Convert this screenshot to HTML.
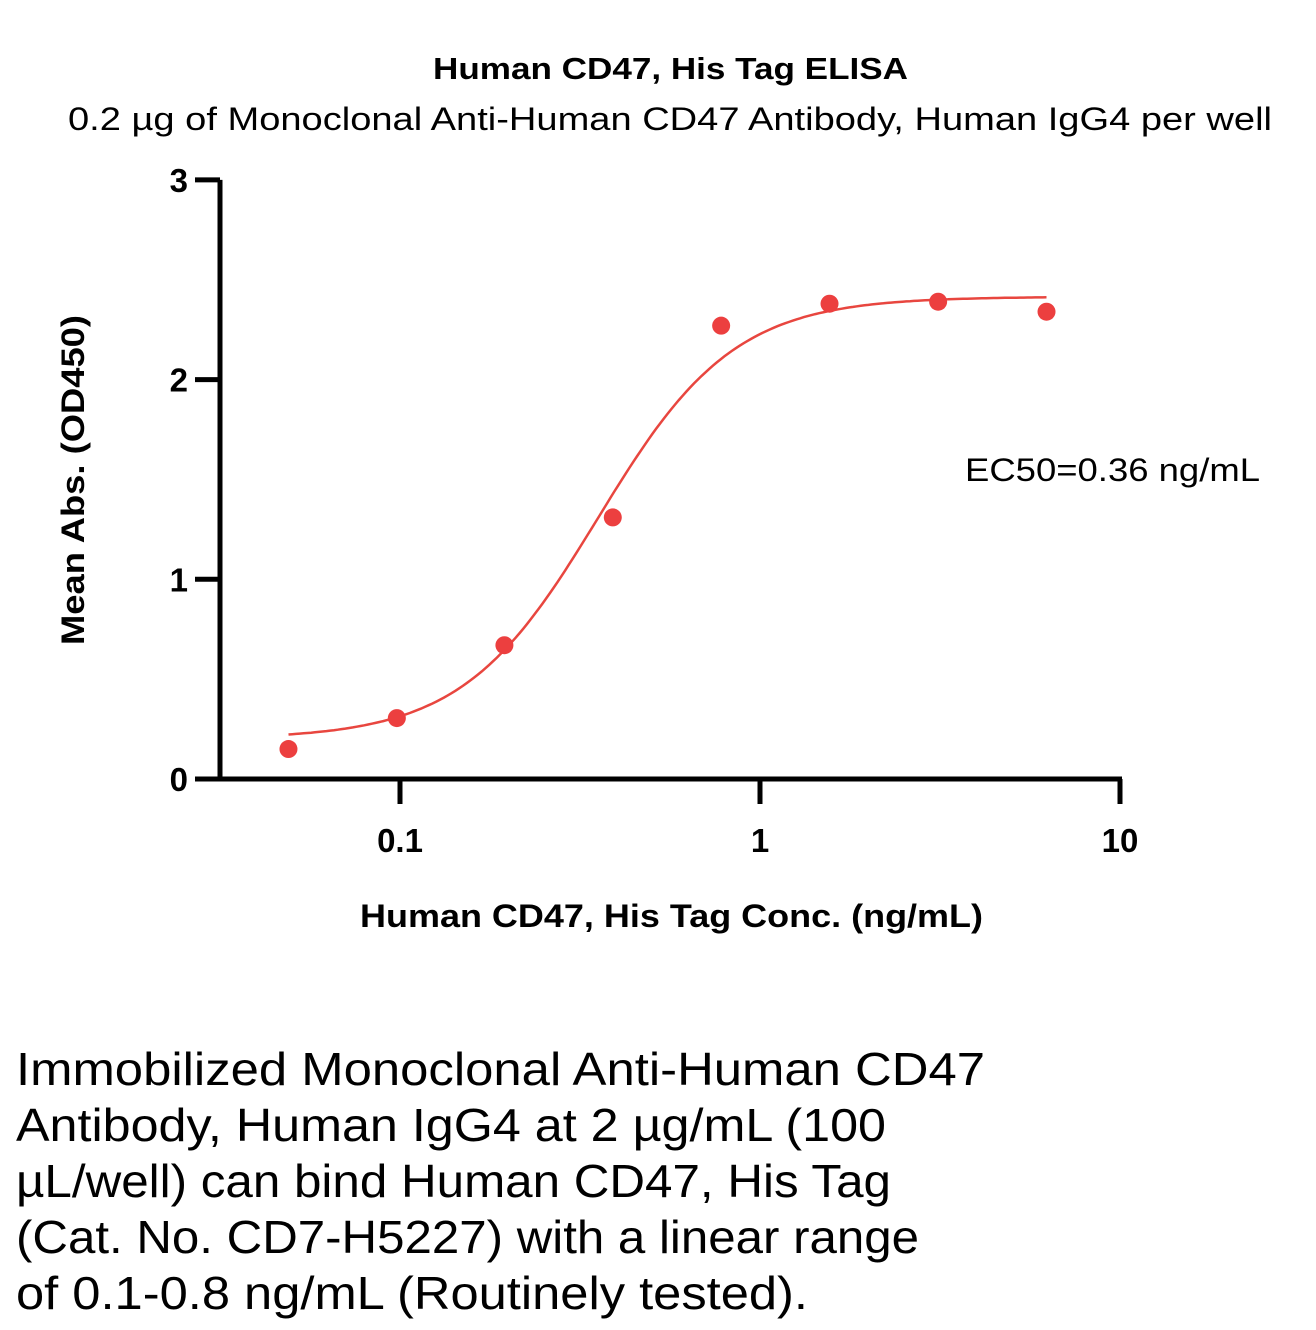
<!DOCTYPE html>
<html><head><meta charset="utf-8">
<style>
body{margin:0;background:#fff;width:1316px;height:1330px;overflow:hidden;font-family:"Liberation Sans",sans-serif;}
svg text{font-family:"Liberation Sans",sans-serif;}
</style></head>
<body>
<svg width="1316" height="1330" style="position:absolute;left:0;top:0" id="chart">
<text x="433" y="79" textLength="475" lengthAdjust="spacingAndGlyphs" font-size="31" font-weight="bold">Human CD47, His Tag ELISA</text>
<text x="68" y="130" textLength="1204" lengthAdjust="spacingAndGlyphs" font-size="32">0.2 µg of Monoclonal Anti-Human CD47 Antibody, Human IgG4 per well</text>
<text x="0" y="0" transform="translate(84,645) rotate(-90)" textLength="330" lengthAdjust="spacingAndGlyphs" font-size="32" font-weight="bold">Mean Abs. (OD450)</text>
<text x="360" y="927" textLength="623" lengthAdjust="spacingAndGlyphs" font-size="32" font-weight="bold">Human CD47, His Tag Conc. (ng/mL)</text>
<text x="965" y="481" textLength="295" lengthAdjust="spacingAndGlyphs" font-size="32">EC50=0.36 ng/mL</text>
<g id="axes"></g><g id="marks"></g>
<g font-size="46">
<text x="16" y="1085" textLength="969" lengthAdjust="spacingAndGlyphs">Immobilized Monoclonal Anti-Human CD47</text>
<text x="16" y="1141" textLength="870" lengthAdjust="spacingAndGlyphs">Antibody, Human IgG4 at 2 µg/mL (100</text>
<text x="16" y="1197" textLength="875" lengthAdjust="spacingAndGlyphs">µL/well) can bind Human CD47, His Tag</text>
<text x="16" y="1253" textLength="903" lengthAdjust="spacingAndGlyphs">(Cat. No. CD7-H5227) with a linear range</text>
<text x="16" y="1309" textLength="792" lengthAdjust="spacingAndGlyphs">of 0.1-0.8 ng/mL (Routinely tested).</text>
</g>
</svg>
<script>
const concentrations=[0.049,0.098,0.195,0.39,0.78,1.56,3.125,6.25];
const absorbances=[0.15,0.305,0.67,1.31,2.27,2.38,2.39,2.34];
const yTicks=[0,1,2,3];
const xTicks=[0.1,1,10];
const xTickLabels=["0.1","1","10"];
const fitParams=[0.2,2.415,0.355,2.3]; // bottom, top, ec50, hill
const NS="http://www.w3.org/2000/svg";
const xs=c=>760+360*Math.log10(c);
const ys=v=>779-199.7*v;
const ax=document.getElementById('axes'),mk=document.getElementById('marks');
function el(t,a,p){const e=document.createElementNS(NS,t);for(const k in a)e.setAttribute(k,a[k]);p.appendChild(e);return e;}
let e=el('line',{x1:220,y1:ys(3),x2:220,y2:ys(0)+2,stroke:'#000','stroke-width':5},ax);


e=el('line',{x1:195,y1:779,x2:1122,y2:779,stroke:'#000','stroke-width':5},ax);


yTicks.forEach(v=>{
 let t=el('line',{x1:195,y1:ys(v),x2:220,y2:ys(v),stroke:'#000','stroke-width':5},ax);
 
 
 let l=el('text',{x:188,y:ys(v)+12,'text-anchor':'end','font-size':33,'font-weight':'bold'},ax);
 l.textContent=v;
 
 
});
xTicks.forEach((v,i)=>{
 let t=el('line',{x1:xs(v),y1:779,x2:xs(v),y2:804,stroke:'#000','stroke-width':5},ax);
 
 
 let l=el('text',{x:xs(v),y:852,'text-anchor':'middle','font-size':33,'font-weight':'bold'},ax);
 l.textContent=xTickLabels[i];
 
 
});
const [B,T,E,H]=fitParams;
const lo=Math.log10(concentrations[0]),hi=Math.log10(concentrations[concentrations.length-1]);
let d='';
for(let i=0;i<=200;i++){const lc=lo+(hi-lo)*i/200,c=Math.pow(10,lc);const v=B+(T-B)/(1+Math.pow(E/c,H));d+=(i?'L':'M')+xs(c).toFixed(1)+','+ys(v).toFixed(1);}
e=el('path',{d:d,fill:'none',stroke:'#e8463f','stroke-width':2.5},mk);


concentrations.forEach((c,i)=>{
 let p=el('circle',{cx:xs(c),cy:ys(absorbances[i]),r:9,fill:'#ec3f3f'},mk);
 
 
});
</script>
</body></html>
